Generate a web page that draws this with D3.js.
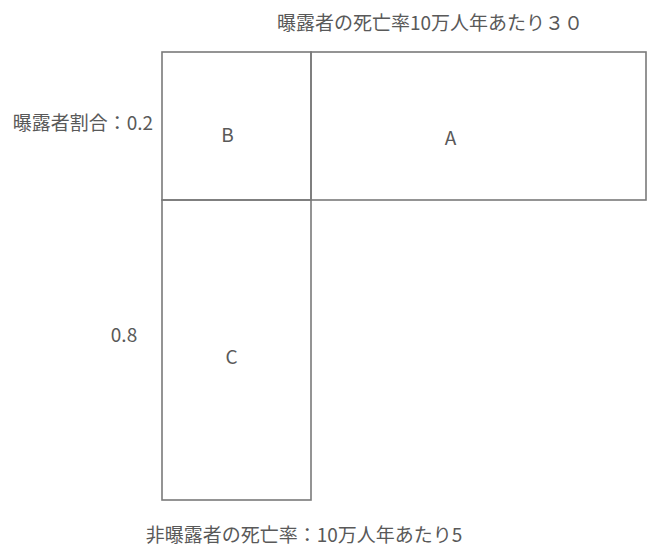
<!DOCTYPE html>
<html><head><meta charset="utf-8">
<script src="https://cdn.jsdelivr.net/npm/d3@7"></script>
<style>
html,body{margin:0;padding:0;background:#fff;}
svg text{font-family:"Noto Sans CJK JP","Noto Sans",sans-serif;fill:#595959;}
</style></head>
<body><svg id="c" width="653" height="547"></svg>
<script>
// Mortality rates per 100,000 person-years
const rateBreaks = [0, 5, 30];          // 0, non-exposed rate, exposed rate
// Population proportions (cumulative from bottom): non-exposed 0.8, exposed 0.2
const propBreaks = [0, 0.8, 1.0];
const cellNames = ["A", "B", "C"];
const cellX0 = [5, 0, 0];
const cellX1 = [30, 5, 5];
const cellY0 = [0.8, 0.8, 0];
const cellY1 = [1.0, 1.0, 0.8];
const titleTop = "曝露者の死亡率10万人年あたり３０";
const titleBottom = "非曝露者の死亡率：10万人年あたり5";
const labelExposed = "曝露者割合：0.2";
const labelNonExposed = "0.8";

const svg = d3.select("#c");
// schematic (not to scale) piecewise scales
const x = d3.scaleLinear().domain(rateBreaks).range([162, 311, 646]);
const y = d3.scaleLinear().domain(propBreaks).range([500, 200, 52]);

const cells = cellNames.map((n, i) => ({name: n, x0: cellX0[i], x1: cellX1[i], y0: cellY0[i], y1: cellY1[i]}));

svg.selectAll("rect.cell").data(cells).join("rect")
  .attr("class", "cell")
  .attr("x", d => x(d.x0)).attr("y", d => y(d.y1))
  .attr("width", d => x(d.x1) - x(d.x0)).attr("height", d => y(d.y0) - y(d.y1))
  .attr("fill", "none").attr("stroke", "#7a7a7a").attr("stroke-width", 1.6);

const off = {A: [-28, 10], B: [-9, 7], C: [-5, 5]};
svg.selectAll("text.cell").data(cells).join("text")
  .attr("class", "cell")
  .attr("x", d => (x(d.x0) + x(d.x1)) / 2 + off[d.name][0])
  .attr("y", d => (y(d.y0) + y(d.y1)) / 2 + off[d.name][1])
  .attr("text-anchor", "middle").attr("dominant-baseline", "central")
  .attr("font-size", 19).text(d => d.name);

svg.append("text").attr("x", 430).attr("y", 21).attr("text-anchor", "middle")
  .attr("dominant-baseline", "central").attr("font-size", 19).text(titleTop);
svg.append("text").attr("x", 304).attr("y", 533).attr("text-anchor", "middle")
  .attr("dominant-baseline", "central").attr("font-size", 19).text(titleBottom);
svg.append("text").attr("x", 153).attr("y", (y(1) + y(0.8)) / 2 - 5).attr("text-anchor", "end")
  .attr("dominant-baseline", "central").attr("font-size", 19).text(labelExposed);
svg.append("text").attr("x", 124).attr("y", (y(0.8) + y(0)) / 2 - 17).attr("text-anchor", "middle")
  .attr("dominant-baseline", "central").attr("font-size", 19).text(labelNonExposed);
</script></body></html>
